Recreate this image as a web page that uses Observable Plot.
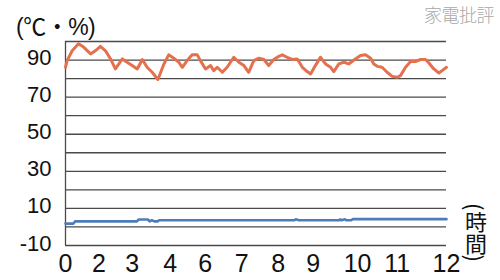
<!DOCTYPE html>
<html>
<head>
<meta charset="utf-8">
<script src="https://cdn.jsdelivr.net/npm/d3@7"></script>
<script src="https://cdn.jsdelivr.net/npm/@observablehq/plot@0.6"></script>
<style>
  html, body { margin: 0; padding: 0; background: #fff; }
  #wrap { position: relative; width: 500px; height: 280px; overflow: hidden; font-family: "Liberation Sans", Arial, sans-serif; }
  #unit { position: absolute; left: 16px; top: 8px; font-size: 23px; color: #111; font-family: "Liberation Sans", "Noto Sans CJK JP", sans-serif; letter-spacing: -0.5px; }
  #brand { position: absolute; right: 6px; top: 1px; font-size: 18px; color: #a8a8a8; font-family: "Noto Sans CJK JP", sans-serif; font-weight: 300; letter-spacing: -0.5px; }
  #xunit { position: absolute; left: 465px; top: 203px; font-size: 22px; color: #111; writing-mode: vertical-rl; font-family: "Noto Sans CJK JP", sans-serif; line-height: 1; }
</style>
</head>
<body>
<div id="wrap">
  <div id="chart"></div>
  <div id="unit">(℃・%)</div>
  <div id="brand">家電批評</div>
  <div id="xunit">(時間)</div>
</div>
<script>
// Humidity (%) — orange series
const humHours = [0, 0.05, 0.21, 0.41, 0.57, 0.79, 0.94, 1.10, 1.26, 1.42, 1.57, 1.79, 1.94, 2.10, 2.26, 2.42, 2.57, 2.73, 2.91,
  3.10, 3.25, 3.41, 3.57, 3.68, 3.83, 3.99, 4.15, 4.25, 4.41, 4.57, 4.67, 4.78, 4.94, 5.09, 5.30, 5.46, 5.62, 5.77, 5.93,
  6.09, 6.25, 6.40, 6.56, 6.72, 6.83, 6.98, 7.14, 7.30, 7.46, 7.61, 7.72, 7.87, 8.03, 8.19, 8.35, 8.45, 8.61, 8.77, 8.92,
  9.13, 9.29, 9.45, 9.61, 9.71, 9.82, 9.97, 10.13, 10.29, 10.45, 10.55, 10.71, 10.87, 11.02, 11.18, 11.34, 11.44, 11.60, 11.76, 11.86, 12];
const humValues = [86.1, 89.7, 95, 98.8, 97, 93.3, 95, 97.4, 95, 90.6, 85.2, 90.6, 88.8, 87, 85.2, 90.3, 86.1, 83.4, 79.5,
  87.9, 92.8, 91, 88.8, 86.1, 89.7, 92.8, 92.8, 89.7, 85.2, 87, 84.3, 86.1, 83.4, 86.1, 91.5, 88.8, 87, 83.4, 89.7,
  91, 90.3, 87, 90.3, 92, 92.8, 91.5, 90.3, 90.6, 86.1, 83.8, 82.5, 87, 91.5, 87.9, 86.1, 83.8, 87.9, 88.8, 87.9,
  90.6, 92.4, 92.8, 91, 87.9, 86.6, 86.1, 83.4, 81.2, 80.7, 81.6, 86.1, 89.2, 89.2, 90.3, 90.3, 88.5, 85.2, 83, 84.3, 86.1];

// Temperature (℃) — blue series
const tempHours = [0, 0.25, 0.3, 2.25, 2.3, 2.6, 2.65, 2.72, 2.8, 2.9, 2.95, 7.2, 7.25, 7.35, 8.62, 8.65, 8.7, 8.8, 8.85, 9.0, 9.05, 12];
const tempValues = [1.8, 1.8, 3.0, 3.0, 4.0, 4.0, 3.0, 3.6, 3.0, 3.0, 3.6, 3.6, 4.1, 3.6, 3.6, 4.1, 3.6, 4.1, 3.6, 3.6, 4.2, 4.2];

// Axis ticks
const yGridValues = [-10, 0, 10, 20, 30, 40, 50, 60, 70, 80, 90, 100];
const yTickValues = [90, 70, 50, 30, 10, -10];
const xTickPositions = [0, 1.05, 2.1, 3.3, 4.4, 5.55, 6.7, 7.8, 9.2, 10.45, 12];
const xTickLabels = ["0", "2", "3", "4", "6", "7", "8", "9", "10", "11", "12"];

const hum = humHours.map((h, i) => ({h, v: humValues[i]}));
const temp = tempHours.map((h, i) => ({h, v: tempValues[i]}));
const xLabelMap = new Map(xTickPositions.map((p, i) => [p, xTickLabels[i]]));

const chart = Plot.plot({
  width: 500,
  height: 280,
  marginLeft: 65,
  marginRight: 54,
  marginTop: 41,
  marginBottom: 35,
  style: {fontFamily: "'Liberation Sans', Arial, sans-serif", color: "#111", background: "#fff"},
  x: {domain: [0, 12]},
  y: {domain: [-10, 100]},
  marks: [
    Plot.ruleY(yGridValues, {stroke: "#4a4a4a", strokeWidth: 1.3}),
    Plot.ruleX([0], {stroke: "#4a4a4a", strokeWidth: 1.3}),
    Plot.line(temp, {x: "h", y: "v", stroke: "#4C7DB9", strokeWidth: 2.6}),
    Plot.line(hum, {x: "h", y: "v", stroke: "#E5704E", strokeWidth: 3, strokeLinejoin: "round"}),
    Plot.axisY({ticks: yTickValues, tickSize: 0, tickPadding: 14, fontSize: 22, tickFormat: d => String(d), label: null, dy: -2}),
    Plot.axisX({ticks: xTickPositions, tickSize: 0, tickPadding: 9, fontSize: 25, tickFormat: d => xLabelMap.get(d), label: null})
  ]
});
document.getElementById("chart").appendChild(chart);
</script>
</body>
</html>
